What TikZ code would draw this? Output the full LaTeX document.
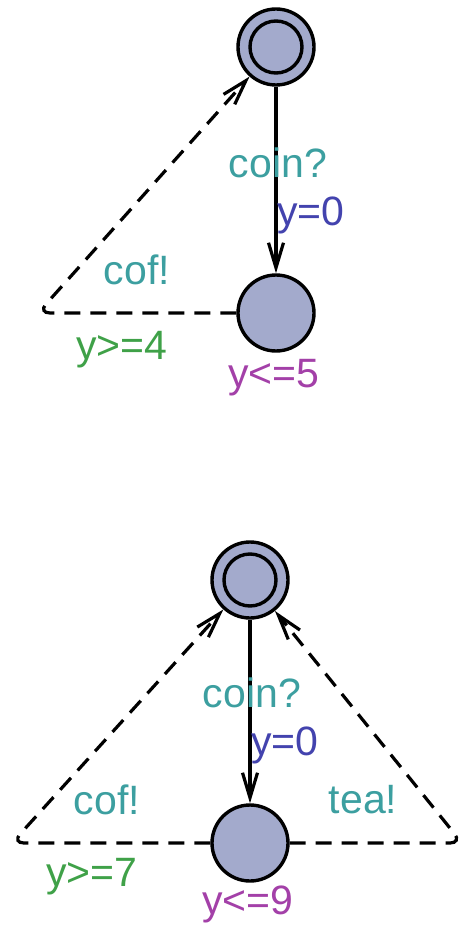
\documentclass[tikz,border=0pt]{standalone}
\usepackage{fontspec}
\setmainfont{Liberation Sans}
\usetikzlibrary{arrows.meta}
\definecolor{locfill}{HTML}{A3AACC}
\definecolor{synccol}{HTML}{3C9FA0}
\definecolor{assigncol}{HTML}{4343AE}
\definecolor{guardcol}{HTML}{3FA148}
\definecolor{invcol}{HTML}{A340A8}
\tikzset{
  loc/.style={circle, draw=black, fill=locfill, line width=3.4pt, minimum size=76pt, inner sep=0pt},
  initloc/.style={loc,
    path picture={\draw[line width=3.4pt] (path picture bounding box.center) circle[radius=26pt];}},
  lbl/.style={font=\fontsize{41}{41}\selectfont, inner sep=0pt},
  sync/.style={lbl, text=synccol},
  assign/.style={lbl, text=assigncol},
  guard/.style={lbl, text=guardcol},
  inv/.style={lbl, text=invcol},
  edge/.style={line width=3.2pt, -{Straight Barb[length=25pt,width=15pt,line width=3.2pt]}},
  dashedge/.style={edge, dash pattern=on 16pt off 10pt, rounded corners=12pt},
}
\begin{document}
\begin{tikzpicture}[x=1pt, y=-1pt]
\useasboundingbox (0,0) rectangle (465,925);

% first automaton: coffee only
\node[initloc] (a0) at (276,47) {};
\node[loc] (a1) at (276,313) {};
\coordinate (ac) at (38,313);
\draw[edge] (a0) -- (a1);
\draw[dashedge] (a1.west) -- (ac) -- (a0);
\node[sync] (acoin) at (278,163) {coin?};
\node[assign] (ay) at (311,215) {y=0};
\node[sync] (acof) at (137,270) {cof!};
\node[guard] (ag) at (122,350) {y>=4};
\node[inv] (ainv) at (274,378) {y<=5};

% second automaton: coffee or tea
\node[initloc] (b0) at (250,580) {};
\node[loc] (b1) at (250,843) {};
\coordinate (bl) at (12,843);
\coordinate (br) at (462,843);
\draw[edge] (b0) -- (b1);
\draw[dashedge] (b1.west) -- (bl) -- (b0);
\draw[dashedge] (b1.east) -- (br) -- (b0);
\node[sync] (bcoin) at (252,693) {coin?};
\node[assign] (by) at (285,745) {y=0};
\node[sync] (bcof) at (107,800) {cof!};
\node[sync] (btea) at (363,800) {tea!};
\node[guard] (bg) at (92,877) {y>=7};
\node[inv] (binv) at (248,904) {y<=9};
\end{tikzpicture}
\end{document}
